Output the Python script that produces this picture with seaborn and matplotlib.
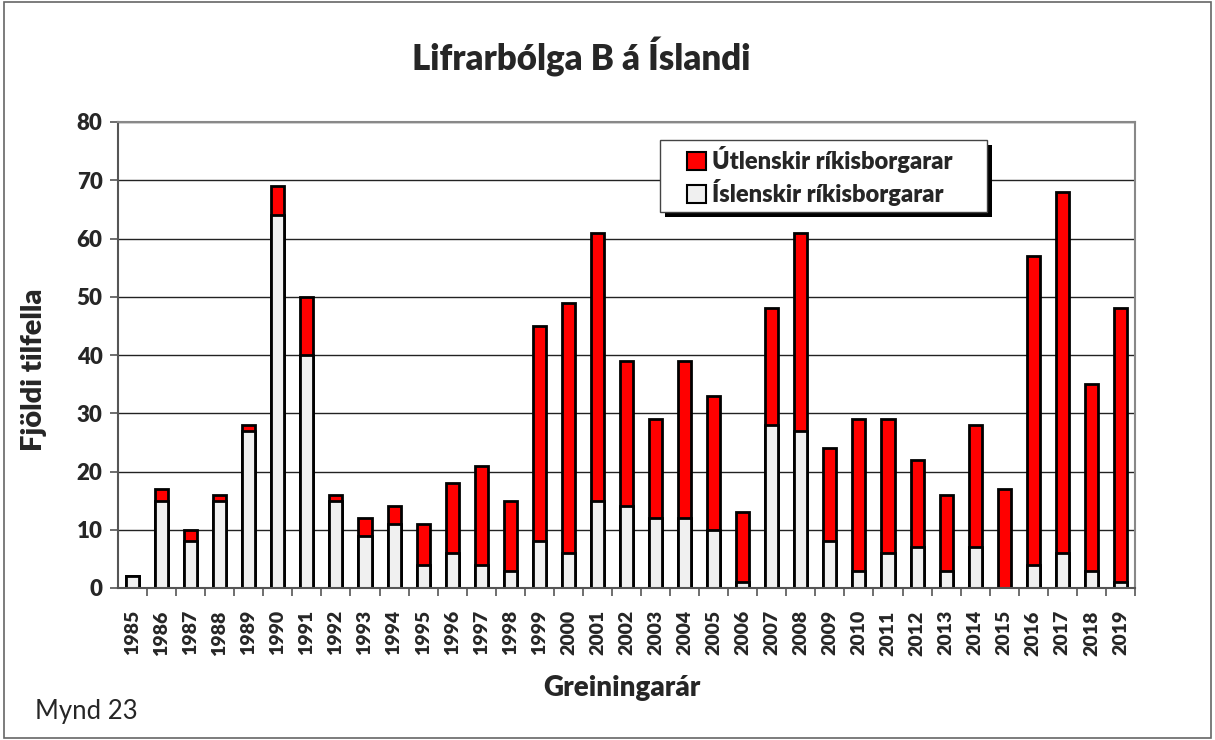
import matplotlib
matplotlib.use("Agg")
import matplotlib.pyplot as plt
import seaborn as sns
import pandas as pd
import numpy as np
from matplotlib.patches import Patch, Rectangle

years = [str(y) for y in range(1985, 2020)]
total = [2, 17, 10, 16, 28, 69, 50, 16, 12, 14, 11, 18, 21, 15, 45, 49, 61, 39, 29, 39,
         33, 13, 48, 61, 24, 29, 29, 22, 16, 28, 17, 57, 68, 35, 48]
icelandic = [2, 15, 8, 15, 27, 64, 40, 15, 9, 11, 4, 6, 4, 3, 8, 6, 15, 14, 12, 12,
             10, 1, 28, 27, 8, 3, 6, 7, 3, 7, 0, 4, 6, 3, 1]
foreign_label = "Útlenskir ríkisborgarar"
icelandic_label = "Íslenskir ríkisborgarar"

df = pd.DataFrame({"year": years, "total": total, "icelandic": icelandic})

sns.set_theme(style="white")
plt.rcParams['font.family'] = ['Lato', 'DejaVu Sans']
W = "heavy"
FW, FH = 1215, 740

fig = plt.figure(figsize=(12.15, 7.40), dpi=100)
ax = fig.add_axes([118/FW, 1-588/FH, (1135-118)/FW, (588-122)/FH])

bw = 0.45
sns.barplot(data=df, x="year", y="total", color="#ff0000", edgecolor="black",
            linewidth=2, width=bw, saturation=1, ax=ax, order=years)
sns.barplot(data=df, x="year", y="icelandic", color="#f0f0f0", edgecolor="black",
            linewidth=2, width=bw, saturation=1, ax=ax, order=years)

ax.set_ylim(0, 80)
ax.set_xlim(-0.5, len(years) - 0.5)
ax.set_yticks(range(0, 81, 10))
ax.yaxis.grid(True, color="#222222", linewidth=1)
ax.set_axisbelow(True)
for s in ["top", "right"]:
    ax.spines[s].set_color("#888888")
    ax.spines[s].set_linewidth(1.5)
for s in ["left", "bottom"]:
    ax.spines[s].set_color("#555555")
    ax.spines[s].set_linewidth(1.5)

ax.tick_params(axis="y", which="major", left=True, length=6, width=1.2, color="#555555",
               labelsize=16, pad=5)
for t in ax.get_yticklabels():
    t.set_fontweight(W)
ax.tick_params(axis="x", which="major", bottom=False, labelsize=14, pad=10)
ax.set_xticks(np.arange(len(years)) + 0.5, minor=True)
ax.tick_params(axis="x", which="minor", bottom=True, length=6, width=1.2, color="#555555")
ax.set_xticks(range(len(years)))
ax.set_xticklabels(years, rotation=90, fontweight=W, fontsize=14)
ax.set_xlabel("")
ax.set_ylabel("")

fig.text(622/FW, 1-688/FH, "Greiningarár", ha="center", va="center",
         fontsize=20, fontweight=W)
fig.text(34/FW, 1-370/FH, "Fjöldi tilfella", ha="center", va="center", rotation=90,
         fontsize=21, fontweight=W)
fig.text(581/FW, 1-57/FH, "Lifrarbólga B á Íslandi", ha="center", va="center",
         fontsize=25, fontweight=W)
fig.text(35/FW, 1-712/FH, "Mynd 23", ha="left", va="center", fontsize=18.5)

# legend frame with solid shadow
def fig_rect(x0, y0, x1, y1, **kw):
    r = Rectangle((x0/FW, 1-y1/FH), (x1-x0)/FW, (y1-y0)/FH, transform=fig.transFigure, **kw)
    fig.patches.append(r)
    return r

fig_rect(665, 145, 992, 217, facecolor="black", edgecolor="none", zorder=5)
fig_rect(660, 140, 987, 212, facecolor="white", edgecolor="#444444", linewidth=1, zorder=6)

handles = [Patch(facecolor="#ff0000", edgecolor="black", linewidth=1.5, label=foreign_label),
           Patch(facecolor="#f0f0f0", edgecolor="black", linewidth=1.5, label=icelandic_label)]
leg = fig.legend(handles=handles, loc="center left",
                 bbox_to_anchor=(687/FW, 1-176/FH), frameon=False,
                 prop={"weight": W, "size": 17}, handlelength=0.8, handleheight=0.8,
                 handletextpad=0.25, borderpad=0, labelspacing=0.25, borderaxespad=0)
leg.set_zorder(7)

fig.patches.append(Rectangle((0.003, 0.003), 0.994, 0.994, transform=fig.transFigure,
                             fill=False, edgecolor="#666666", linewidth=1.2))

fig.savefig("out.png", dpi=100, facecolor="white")
